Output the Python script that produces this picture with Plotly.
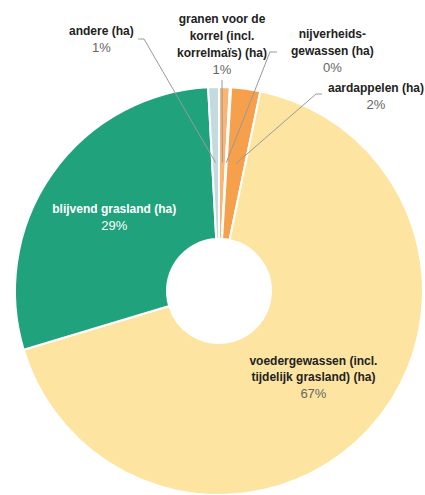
import math
import plotly.graph_objects as go

W, H = 425, 495

# Land use shares (percent of total area)
names = [
    "granen voor de korrel (incl. korrelmaïs) (ha)",
    "nijverheidsgewassen (ha)",
    "aardappelen (ha)",
    "voedergewassen (incl. tijdelijk grasland) (ha)",
    "blijvend grasland (ha)",
    "andere (ha)",
]
display_names = [
    "granen voor de<br>korrel (incl.<br>korrelmaïs) (ha)",
    "nijverheids-<br>gewassen (ha)",
    "aardappelen (ha)",
    "voedergewassen (incl.<br>tijdelijk grasland) (ha)",
    "blijvend grasland (ha)",
    "andere (ha)",
]
shares = [0.85, 0.1, 2.3, 67.1, 28.8, 0.85]
colors = ["#f9b574", "#f4c58a", "#f7a04b", "#fde4a1", "#20a27c", "#c3dadf"]

FONT = "Liberation Sans, Arial, sans-serif"
GREY = "#666666"

# pie geometry in pixels
cx, cy, R = 219, 291, 204
hole = 0.255


def px(x, y):
    return x / W, 1 - y / H


inside = {3: "#222222", 4: "white"}
textpos, templates = [], []
for i in range(len(shares)):
    if i in inside:
        name_col = inside[i]
        pct_col = GREY if i == 3 else "white"
        textpos.append("inside")
        templates.append(
            f"<span style='font-size:12px;font-weight:bold;color:{name_col}'>%{{customdata}}</span>"
            f"<br><span style='color:{pct_col}'>%{{percent:.0%}}</span>"
        )
    else:
        textpos.append("none")
        templates.append("")

fig = go.Figure(
    go.Pie(
        labels=names,
        values=shares,
        customdata=display_names,
        sort=False,
        direction="clockwise",
        rotation=0,
        hole=hole,
        marker=dict(colors=colors, line=dict(color="white", width=2)),
        textposition=textpos,
        texttemplate=templates,
        insidetextorientation="horizontal",
        textfont=dict(family=FONT, size=13),
        domain=dict(x=[(cx - R) / W, (cx + R) / W], y=[1 - (cy + R) / H, 1 - (cy - R) / H]),
        showlegend=False,
        hoverinfo="label+percent",
    )
)

total = sum(shares)
cum = 0.0
mid_angles = []
for v in shares:
    mid_angles.append((cum + v / 2) / total * 2 * math.pi)
    cum += v

# outside labels: (slice index, label centre x, label middle y, leader start, elbow)
outside = [
    (5, 101, 40, (138, 39), (144, 39)),
    (0, 222, 44, (222, 80), None),
    (1, 332, 51, (277, 52), (270, 52)),
    (2, 376, 96, (322, 94), (316, 94)),
]

shapes, annotations = [], []
r_lead = 0.63 * R
for idx, lx, ly, start, elbow in outside:
    a = mid_angles[idx]
    ex, ey = cx + r_lead * math.sin(a), cy - r_lead * math.cos(a)
    pts = [start] + ([elbow] if elbow else []) + [(ex, ey)]
    path = ""
    for k, (x, y) in enumerate(pts):
        X, Y = px(x, y)
        path += ("M" if k == 0 else " L") + f" {X:.5f} {Y:.5f}"
    shapes.append(dict(type="path", xref="paper", yref="paper", path=path,
                       line=dict(color="#9a9a9a", width=1)))
    pct = round(shares[idx] / total * 100)
    X, Y = px(lx, ly)
    annotations.append(dict(
        x=X, y=Y, xref="paper", yref="paper", xanchor="center", yanchor="middle",
        showarrow=False, align="center",
        text=f"<span style='font-size:12px;font-weight:bold;color:#222222'>{display_names[idx]}</span>"
             f"<br><span style='color:{GREY}'>{pct}%</span>",
        font=dict(family=FONT, size=13, color=GREY),
    ))

fig.update_layout(
    width=W, height=H,
    margin=dict(l=0, r=0, t=0, b=0),
    paper_bgcolor="white",
    plot_bgcolor="white",
    shapes=shapes,
    annotations=annotations,
)

fig.write_html("out.html")
